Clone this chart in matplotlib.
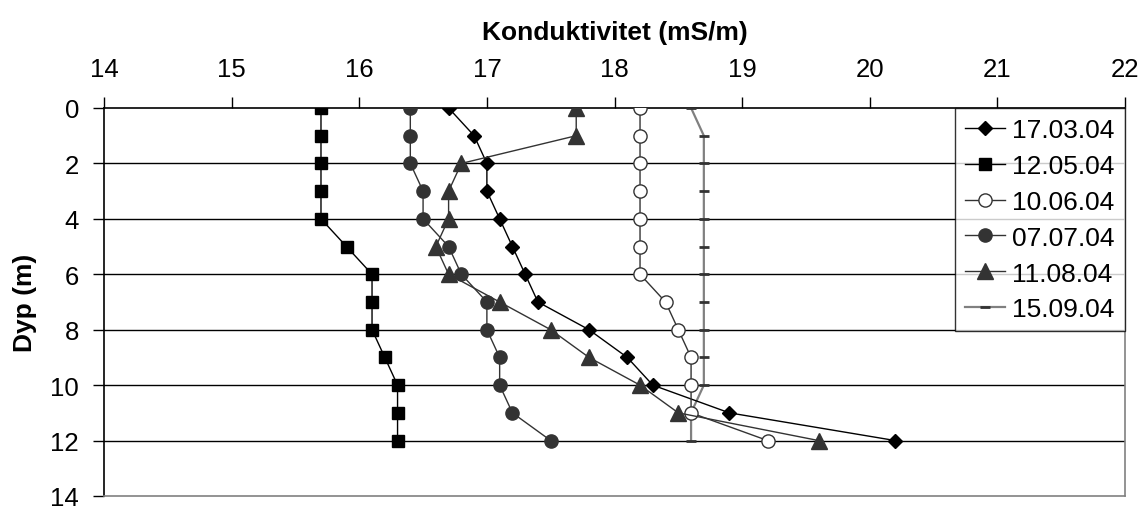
import matplotlib.pyplot as plt

plt.rcParams['font.family'] = ['Liberation Sans', 'DejaVu Sans']

depth = [0, 1, 2, 3, 4, 5, 6, 7, 8, 9, 10, 11, 12]

# Konduktivitet (mS/m) per måledato
k_170304 = [16.7, 16.9, 17.0, 17.0, 17.1, 17.2, 17.3, 17.4, 17.8, 18.1, 18.3, 18.9, 20.2]
k_120504 = [15.7, 15.7, 15.7, 15.7, 15.7, 15.9, 16.1, 16.1, 16.1, 16.2, 16.3, 16.3, 16.3]
k_100604 = [18.2, 18.2, 18.2, 18.2, 18.2, 18.2, 18.2, 18.4, 18.5, 18.6, 18.6, 18.6, 19.2]
k_070704 = [16.4, 16.4, 16.4, 16.5, 16.5, 16.7, 16.8, 17.0, 17.0, 17.1, 17.1, 17.2, 17.5]
k_110804 = [17.7, 17.7, 16.8, 16.7, 16.7, 16.6, 16.7, 17.1, 17.5, 17.8, 18.2, 18.5, 19.6]
k_150904 = [18.6, 18.7, 18.7, 18.7, 18.7, 18.7, 18.7, 18.7, 18.7, 18.7, 18.7, 18.6, 18.6]

labels = ['17.03.04', '12.05.04', '10.06.04', '07.07.04', '11.08.04', '15.09.04']
x_ticks = [14, 15, 16, 17, 18, 19, 20, 21, 22]
y_ticks = [0, 2, 4, 6, 8, 10, 12, 14]

fig = plt.figure(figsize=(11.47, 5.10), dpi=100)
ax = fig.add_axes([0.0907, 0.0255, 0.8901, 0.7608])

dark = '#333333'
ax.plot(k_170304, depth, '-', color='black', lw=1, marker='D', ms=7,
        mfc='black', mec='black', label=labels[0], zorder=5)
ax.plot(k_120504, depth, '-', color='black', lw=1, marker='s', ms=9,
        mfc='black', mec='black', label=labels[1], zorder=5)
ax.plot(k_100604, depth, '-', color=dark, lw=1, marker='o', ms=9.5,
        mfc='white', mec=dark, mew=1, label=labels[2], zorder=5)
ax.plot(k_070704, depth, '-', color=dark, lw=1, marker='o', ms=9.5,
        mfc=dark, mec=dark, label=labels[3], zorder=5)
ax.plot(k_110804, depth, '-', color=dark, lw=1, marker='^', ms=11,
        mfc=dark, mec=dark, label=labels[4], zorder=5)
ax.plot(k_150904, depth, '-', color='#808080', lw=1.6, marker='_', ms=7,
        mec=dark, mew=2, label=labels[5], zorder=4)

ax.set_xlim(14, 22)
ax.set_ylim(14, 0)
ax.set_xticks(x_ticks)
ax.set_yticks(y_ticks)

ax.xaxis.tick_top()
ax.xaxis.set_label_position('top')
ax.tick_params(axis='x', direction='out', length=8, width=1, labelsize=18.5, pad=11.5)
ax.tick_params(axis='y', direction='out', length=8, width=1, labelsize=18.5, pad=10)

ax.set_xlabel('Konduktivitet (mS/m)', fontsize=19, fontweight='bold')
ax.set_ylabel('Dyp (m)', fontsize=19, fontweight='bold')
ax.xaxis.set_label_coords(0.5, 1.1766)
ax.yaxis.set_label_coords(-0.066, 0.5)

for y in y_ticks[1:-1]:
    ax.axhline(y, color='black', lw=1, zorder=1)

ax.spines['top'].set_color('black')
ax.spines['left'].set_color('black')
ax.spines['right'].set_color('#808080')
ax.spines['bottom'].set_color('#808080')
for s in ax.spines.values():
    s.set_linewidth(1.2)

leg = ax.legend(loc='upper right', fontsize=19, frameon=True, fancybox=False,
                borderaxespad=0, handlelength=1.5, handletextpad=0.3,
                labelspacing=0.45, borderpad=0.38)
leg.get_frame().set_edgecolor('black')
leg.get_frame().set_linewidth(1)
leg.set_zorder(10)

fig.savefig('out.png', dpi=100)
